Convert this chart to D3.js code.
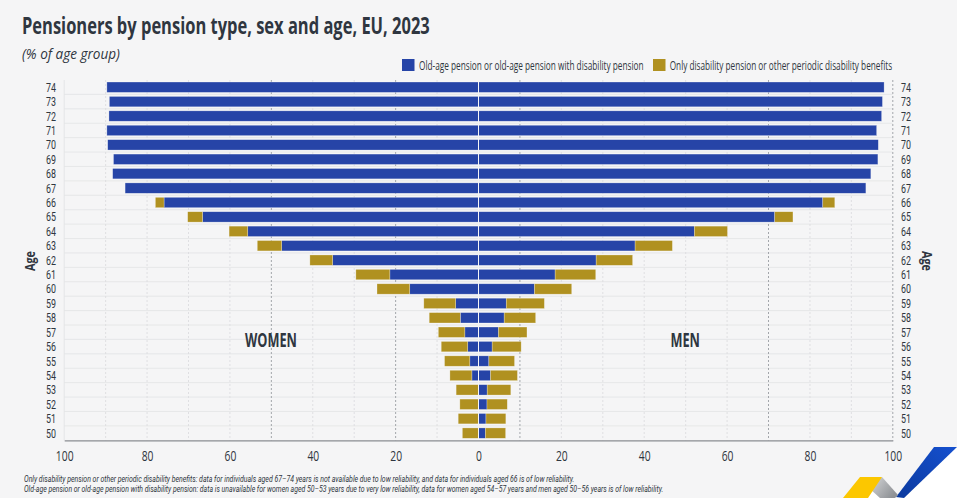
<!DOCTYPE html>
<html>
<head>
<meta charset="utf-8">
<script src="https://cdn.jsdelivr.net/npm/d3@7"></script>
<style>
  html, body { margin: 0; padding: 0; background: #f5f5f6; overflow: hidden; }
  text { font-family: "Open Sans", "Noto Sans", sans-serif; fill: #2f3640; }
  text.tight { font-family: Roboto, "Liberation Sans", sans-serif; }
</style>
</head>
<body>
<div id="chart"></div>
<script>
const ages = [74, 73, 72, 71, 70, 69, 68, 67, 66, 65, 64, 63, 62, 61, 60, 59, 58, 57, 56, 55, 54, 53, 52, 51, 50];

// % of age group, null = not available
const womenOldAge = [89.7, 89.1, 89.2, 89.7, 89.5, 88.1, 88.3, 85.3, 75.9, 66.6, 55.7, 47.5, 35.2, 21.4, 16.6, 5.5, 4.4, 3.3, 2.6, 2.1, 1.6, null, null, null, null];
const womenDisability = [null, null, null, null, null, null, null, null, 2.1, 3.6, 4.5, 5.9, 5.5, 8.2, 7.9, 7.7, 7.5, 6.4, 6.4, 6.1, 5.3, 5.4, 4.5, 4.9, 3.9];
const menOldAge = [97.9, 97.5, 97.3, 96.1, 96.5, 96.4, 94.7, 93.5, 83.1, 71.5, 52.1, 37.8, 28.4, 18.5, 13.5, 6.7, 6.2, 4.8, 3.3, 2.5, 2.9, 2.1, 2.05, 1.8, 1.65];
const menDisability = [null, null, null, null, null, null, null, null, 2.9, 4.4, 8, 9, 8.8, 9.8, 9, 9.2, 7.6, 6.9, 7, 6.2, 6.5, 5.7, 4.9, 4.8, 4.9];

const xTicks = [100, 80, 60, 40, 20, 0, 20, 40, 60, 80, 100];
const gridValues = [10, 20, 30, 40, 50, 60, 70, 80, 90];
const darkGridWomen = [50, 20];
const darkGridMen = [10, 70];

const seriesNames = ["Old-age pension or old-age pension with disability pension", "Only disability pension or other periodic disability benefits"];
const seriesColors = ["#2644a7", "#b09120"];

const footnotes = [
    "Only disability pension or other periodic disability benefits: data for individuals aged 67\u201374 years is not available due to low reliability, and data for individuals aged 66 is of low reliability.",
    "Old-age pension or old-age pension with disability pension: data is unavailable for women aged 50\u201353 years due to very low reliability, data for women aged 54\u201357 years and men aged 50\u201356 years is of low reliability."
];

const width = 957, height = 498;
const centerX = 478.5, halfWidth = 414.3;
const plotTop = 80, plotBottom = 440.3;

const svg = d3.select("#chart").append("svg")
    .attr("width", width).attr("height", height)
    .style("display", "block");

const xWomen = d3.scaleLinear().domain([0, 100]).range([centerX, centerX - halfWidth]);
const xMen = d3.scaleLinear().domain([0, 100]).range([centerX, centerX + halfWidth]);
const y = d3.scaleBand().domain(ages).range([plotTop, plotBottom]).paddingInner(0.28).paddingOuter(0.14);
const rowStep = y.step();

// no condensed font here, so squeeze the text sideways to the original run length
function label(x, yPos, str, size, len, opts = {}) {
    const t = svg.append("text")
        .attr("class", opts.tight ? "tight" : null)
        .attr("font-size", size)
        .attr("font-weight", opts.weight || "normal")
        .attr("font-style", opts.style || "normal")
        .attr("text-anchor", opts.anchor || "start")
        .text(str);
    const k = len / t.node().getComputedTextLength();
    t.attr("transform", `translate(${x},${yPos}) scale(${k},1)`);
    return t;
}

// horizontal row separators
svg.append("g").selectAll("line").data(ages.slice(1)).join("line")
    .attr("x1", centerX - halfWidth).attr("x2", centerX + halfWidth)
    .attr("y1", d => y(d) - (rowStep - y.bandwidth()) / 2)
    .attr("y2", d => y(d) - (rowStep - y.bandwidth()) / 2)
    .attr("stroke", "#e2e3e5").attr("stroke-width", 0.8);

// vertical gridlines
function drawGrid(scale, darkValues) {
    svg.append("g").selectAll("line").data(gridValues).join("line")
        .attr("x1", d => scale(d)).attr("x2", d => scale(d))
        .attr("y1", plotTop).attr("y2", plotBottom)
        .attr("stroke", d => darkValues.includes(d) ? "#9a9da3" : "#dcdde0")
        .attr("stroke-width", 0.9)
        .attr("stroke-dasharray", "2,2");
}
drawGrid(xWomen, darkGridWomen);
drawGrid(xMen, darkGridMen);

svg.append("line")
    .attr("x1", xMen(100)).attr("x2", xMen(100))
    .attr("y1", plotTop).attr("y2", plotBottom)
    .attr("stroke", "#9a9da3").attr("stroke-width", 0.9).attr("stroke-dasharray", "2,2");
svg.append("line")
    .attr("x1", xWomen(100)).attr("x2", xWomen(100))
    .attr("y1", plotTop).attr("y2", plotBottom)
    .attr("stroke", "#e2e3e5").attr("stroke-width", 0.9);

// stacked bars, one side at a time
function drawBars(scale, oldAge, disability) {
    const rows = ages.map((age, i) => ({ age, a: oldAge[i] || 0, b: disability[i] || 0 }));
    const barX = (v0, v1) => Math.min(scale(v0), scale(v1));
    const barW = (v0, v1) => Math.abs(scale(v1) - scale(v0));

    svg.append("g").selectAll("rect").data(rows.filter(d => d.a > 0)).join("rect")
        .attr("x", d => barX(0, d.a)).attr("width", d => barW(0, d.a))
        .attr("y", d => y(d.age)).attr("height", y.bandwidth())
        .attr("fill", seriesColors[0])
        .attr("stroke", "#ffffff").attr("stroke-opacity", 0.45).attr("stroke-width", 0.6);

    svg.append("g").selectAll("rect").data(rows.filter(d => d.b > 0)).join("rect")
        .attr("x", d => barX(d.a, d.a + d.b)).attr("width", d => barW(d.a, d.a + d.b))
        .attr("y", d => y(d.age)).attr("height", y.bandwidth())
        .attr("fill", seriesColors[1])
        .attr("stroke", "#ffffff").attr("stroke-opacity", 0.45).attr("stroke-width", 0.6);
}
drawBars(xWomen, womenOldAge, womenDisability);
drawBars(xMen, menOldAge, menDisability);

// white centre line
svg.append("line")
    .attr("x1", centerX).attr("x2", centerX)
    .attr("y1", plotTop).attr("y2", plotBottom)
    .attr("stroke", "#f5f5f6").attr("stroke-width", 1);

// age labels on both sides
ages.forEach(age => {
    const cy = y(age) + y.bandwidth() / 2 + 4.5;
    label(56, cy, age, 12, 10, { anchor: "end", tight: true });
    label(901, cy, age, 12, 10, { tight: true });
});

// bottom axis
const xAll = d3.scaleLinear().domain([-100, 100]).range([centerX - halfWidth, centerX + halfWidth]);
const axis = svg.append("g")
    .attr("transform", `translate(0,${plotBottom})`)
    .call(d3.axisBottom(xAll).tickValues(d3.range(-100, 101, 20)).tickSize(0).tickPadding(10)
        .tickFormat((d, i) => xTicks[i]));
axis.select(".domain").attr("stroke", "#8a8d92").attr("stroke-width", 1.2);
axis.selectAll("text")
    .attr("font-size", 14)
    .attr("y", 21).attr("dy", 0)
    .each(function () {
        const len = this.textContent.length * 5.9;
        const k = len / this.getComputedTextLength();
        d3.select(this).attr("transform", `scale(${k},1)`);
    });

// titles
label(22, 34, "Pensioners by pension type, sex and age, EU, 2023", 24, 408, { weight: "bold" });
label(22, 59, "(% of age group)", 14.5, 98, { style: "italic" });

// legend
svg.append("rect").attr("x", 402).attr("y", 59).attr("width", 12.5).attr("height", 12).attr("fill", seriesColors[0]);
label(419, 70, seriesNames[0], 12.5, 225);
svg.append("rect").attr("x", 653).attr("y", 59).attr("width", 12.5).attr("height", 12).attr("fill", seriesColors[1]);
label(669.7, 70, seriesNames[1], 12.5, 222.5);

// side labels
label(245, 347, "WOMEN", 19.5, 52, { weight: "bold" });
label(670.5, 347, "MEN", 19.5, 29.5, { weight: "bold" });

// axis titles, each turned to face the chart
[[35, 261, -90], [922, 261, 90]].forEach(([tx, ty, angle]) => {
    const t = svg.append("text")
        .attr("font-size", 14).attr("font-weight", "bold")
        .attr("text-anchor", "middle")
        .text("Age");
    const k = 20 / t.node().getComputedTextLength();
    t.attr("transform", `translate(${tx},${ty}) rotate(${angle}) scale(${k},1)`);
});

// footnotes
label(24, 482, footnotes[0], 8.5, 551, { style: "italic", tight: true });
label(24, 492, footnotes[1], 8.5, 640, { style: "italic", tight: true });

// logo in the corner
const defs = svg.append("defs");
const blueGrad = defs.append("linearGradient").attr("id", "logoBlue")
    .attr("x1", 0).attr("y1", 1).attr("x2", 1).attr("y2", 0);
blueGrad.append("stop").attr("offset", 0).attr("stop-color", "#0b3a9e");
blueGrad.append("stop").attr("offset", 1).attr("stop-color", "#1550cf");
const greyGrad = defs.append("linearGradient").attr("id", "logoGrey")
    .attr("x1", 0).attr("y1", 0).attr("x2", 1).attr("y2", 0.6);
greyGrad.append("stop").attr("offset", 0).attr("stop-color", "#d8d9db");
greyGrad.append("stop").attr("offset", 1).attr("stop-color", "#8f9296");

const logo = svg.append("g");
logo.append("polygon").attr("points", "957,447 957,498 904,498").attr("fill", "#ffffff");
logo.append("polygon").attr("points", "872,490 880,498 866,498").attr("fill", "#ffffff");
logo.append("polygon").attr("points", "934,447 957,447 904,498 896,497").attr("fill", "url(#logoBlue)");
logo.append("polygon").attr("points", "882,477 898,495 895,498 880,498 870,489").attr("fill", "url(#logoGrey)");
logo.append("polygon").attr("points", "860,477 882,477 868,498 843,498").attr("fill", "#fcc700");
</script>
</body>
</html>
